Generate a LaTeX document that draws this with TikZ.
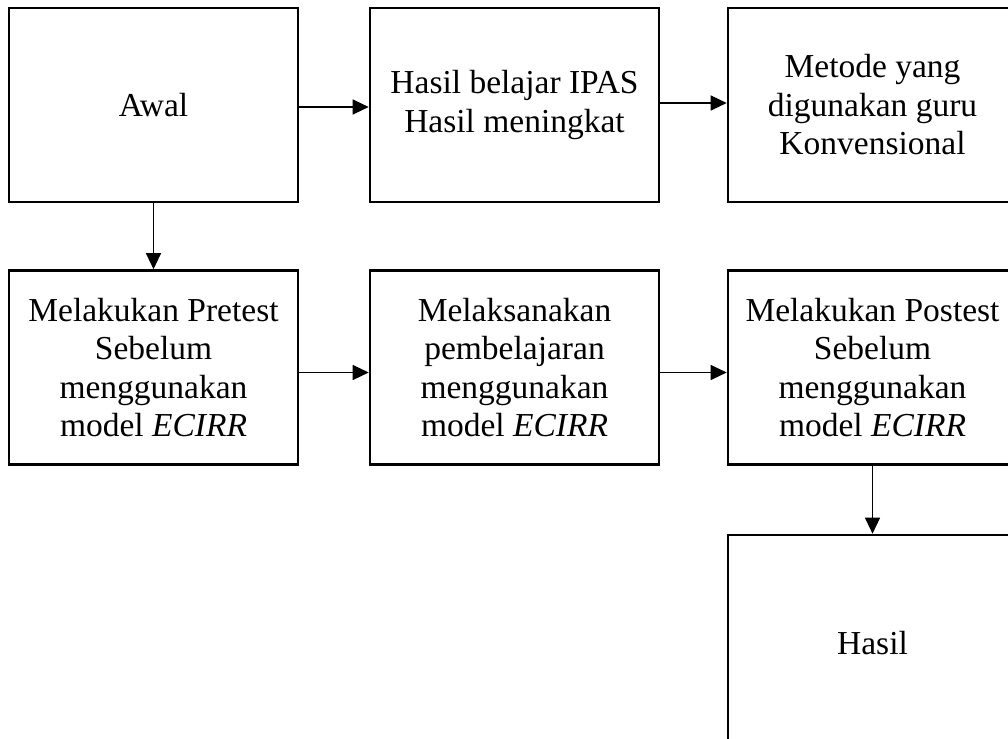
\documentclass[tikz,border=0pt]{standalone}
\usepackage{fontspec}
\setmainfont{Liberation Serif}
\usetikzlibrary{arrows.meta}

\tikzset{
 stage/.style={draw,line width=2.6pt,minimum width=289pt,minimum height=194pt,align=center,inner sep=0pt},
 flow/.style={line width=1.2pt,-{Triangle[length=16pt,width=15pt]}}
}

\begin{document}
\begin{tikzpicture}[x=1pt,y=-1pt,font=\fontsize{33.5}{38.5}\selectfont]
\clip (0,0) rectangle (1008,738);
\useasboundingbox (0,0) rectangle (1008,738);
% first row
\node[stage] (awal) at (153.5,105) {Awal};
\node[stage] (ipas) at (514.5,105) {Hasil belajar IPAS\\Hasil meningkat};
\node[stage] (metode) at (872.5,105) {Metode yang\\digunakan guru\\Konvensional};
% second row
\node[stage] (pretest) at (153.5,367.5) {Melakukan Pretest\\Sebelum\\menggunakan\\model \textit{ECIRR}};
\node[stage] (ajar) at (514.5,367.5) {Melaksanakan\\pembelajaran\\menggunakan\\model \textit{ECIRR}};
\node[stage] (postest) at (872.5,367.5) {Melakukan Postest\\Sebelum\\menggunakan\\model \textit{ECIRR}};
% last box
\node[stage,minimum height=216pt] (hasil) at (872.5,643) {Hasil};
\draw[flow] ([yshift=-2pt]awal.east) -- ([yshift=-2pt]ipas.west);
\draw[flow] ([yshift=2pt]ipas.east) -- ([yshift=2pt]metode.west);
\draw[flow] (awal) -- (pretest);
\draw[flow] ([yshift=-5pt]pretest.east) -- ([yshift=-5pt]ajar.west);
\draw[flow] ([yshift=-5pt]ajar.east) -- ([yshift=-5pt]postest.west);
\draw[flow] (postest) -- (hasil);
\end{tikzpicture}
\end{document}
